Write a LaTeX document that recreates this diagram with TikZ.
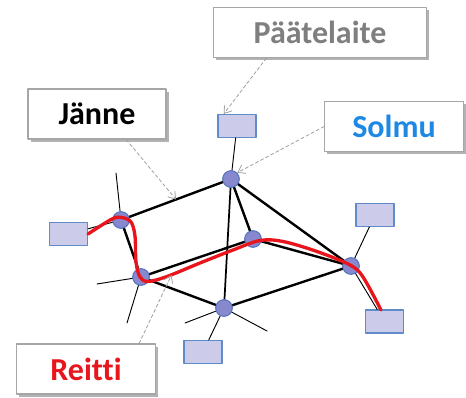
\documentclass[tikz,border=0pt]{standalone}
\usepackage{fontspec}
\setmainfont[Ligatures=NoCommon]{Carlito}
\usetikzlibrary{arrows.meta,shadows,calc}
\definecolor{laitefill}{RGB}{204,204,234}
\definecolor{laitedraw}{RGB}{96,138,200}
\definecolor{solmufill}{RGB}{136,136,206}
\definecolor{solmudraw}{RGB}{84,118,190}
\definecolor{reittired}{RGB}{232,22,28}
\definecolor{solmublue}{RGB}{30,136,229}
\definecolor{harmaa}{RGB}{127,127,127}
\tikzset{
	solmu/.style={circle, fill=solmufill, draw=solmudraw, line width=0.8pt, minimum size=12.5pt, inner sep=0pt},
	laite/.style={rectangle, fill=laitefill, draw=laitedraw, line width=0.8pt, minimum width=28.5pt, minimum height=17.25pt, inner sep=0pt},
	selite/.style={rectangle, fill=white, draw=gray!70, line width=0.8pt, minimum height=37.5pt, inner sep=0pt,
		drop shadow={shadow xshift=2pt, shadow yshift=-2pt, fill=black, opacity=0.3}},
	kaari/.style={line width=1.8pt, black},
	haara/.style={line width=0.7pt, black},
	osoitin/.style={gray!75, dashed, dash pattern=on 2.5pt off 1.8pt, line width=0.6pt, -{Straight Barb[length=5pt, width=7pt]}},
	reitti/.style={reittired, line width=2.5pt}
}
\begin{document}
\begin{tikzpicture}[x=0.75pt, y=-0.75pt, line join=round, line cap=round, font=\bfseries\fontsize{24}{28}\selectfont]
	\useasboundingbox (0,0) rectangle (466,398);
	% solmut ja päätelaitteet
	\coordinate (A) at (231,179);
	\coordinate (B) at (121,220);
	\coordinate (C) at (141,277);
	\coordinate (D) at (253,239);
	\coordinate (E) at (351,266);
	\coordinate (F) at (224,308);
	\node[laite] (lA) at (237,126) {};
	\node[laite] (lB) at (68.5,234) {};
	\node[laite] (lE1) at (375,215) {};
	\node[laite] (lE2) at (384.5,321.5) {};
	\node[laite] (lF) at (203,352) {};
	% avoimet haarat
	\coordinate (hB) at (116,173);
	\coordinate (hC1) at (97,284);
	\coordinate (hC2) at (127,323);
	\coordinate (hF1) at (185,323);
	\coordinate (hF2) at (267,331);
	\foreach \s/\t in {B/hB, C/hC1, C/hC2, F/hF1, F/hF2, A/lA, B/lB, E/lE1, E/lE2, F/lF}
	\draw[haara] (\s) -- (\t);
	% jänteet
	\foreach \s/\t in {A/B, A/D, A/E, B/C, C/D, C/F, D/E, F/E}
	\draw[kaari] (\s) -- (\t);
	\draw[kaari, line width=1.3pt] (A) -- (F);
	\foreach \n in {A,B,C,D,E,F}
	\node[solmu] (s\n) at (\n) {};
	% reitti
	\draw[reitti] plot[smooth, tension=0.55] coordinates {(lB.east) (112,219) (122,217.5) (131,222) (135,236) (136,262) (140,277) (148,281.5) (167,276.5) (200,263) (233,250) (260,240.5) (283,241.5) (317,251.5) (350,265) (363,277) (381,310)};
	\coordinate (rP) at (171.5,275);
	% selitteet
	\node[selite, minimum width=103.5pt] (janne) at (97,114) {Jänne};
	\node[selite, minimum width=160pt, text=harmaa] (paate) at (320,32.5) {Päätelaite};
	\node[selite, minimum width=104pt, text=solmublue] (solmuteksti) at (394,126.5) {Solmu};
	\node[selite, minimum width=104pt, text=reittired] (reittiteksti) at (86,369) {Reitti};
	\coordinate (kAB) at ($(B)!0.5!(A)$);
	\draw[osoitin] ($(janne.south west)!0.71!(janne.south east)$) -- (kAB);
	\draw[osoitin] ($(paate.south west)!0.25!(paate.south east)$) -- ($(lA.north west)!0.16!(lA.north east)$);
	\draw[osoitin] (solmuteksti.west) -- (sA.north east);
	\draw[osoitin] ($(reittiteksti.north west)!0.88!(reittiteksti.north east)$) -- (rP);
\end{tikzpicture}
\end{document}
